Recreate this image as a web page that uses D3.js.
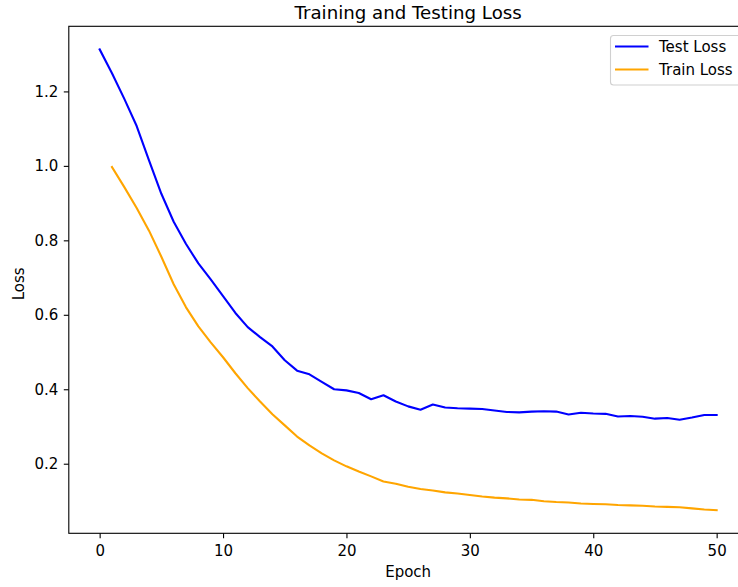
<!DOCTYPE html>
<html>
<head>
<meta charset="utf-8">
<script src="https://cdn.jsdelivr.net/npm/d3@7"></script>
<style>
  html, body { margin: 0; padding: 0; background: #fff; }
  svg { display: block; font-family: "DejaVu Sans", sans-serif; }
</style>
</head>
<body>
<div id="chart"></div>
<script>
// Loss per epoch
const testEpochs = d3.range(0, 51);
const testLoss = [
  1.313, 1.249, 1.180, 1.107, 1.015, 0.925, 0.850, 0.790, 0.738, 0.695,
  0.650, 0.605, 0.567, 0.540, 0.515, 0.478, 0.450, 0.440, 0.420, 0.400,
  0.397, 0.390, 0.373, 0.384, 0.367, 0.354, 0.345, 0.359, 0.351, 0.349,
  0.348, 0.347, 0.343, 0.339, 0.338, 0.340, 0.341, 0.340, 0.332, 0.337,
  0.335, 0.334, 0.327, 0.328, 0.326, 0.321, 0.323, 0.318, 0.324, 0.331,
  0.331
];
const trainEpochs = d3.range(1, 51);
const trainLoss = [
  0.997, 0.943, 0.887, 0.826, 0.756, 0.682, 0.620, 0.569, 0.526,
  0.486, 0.443, 0.403, 0.367, 0.333, 0.303, 0.273, 0.249, 0.228, 0.209,
  0.193, 0.179, 0.166, 0.152, 0.146, 0.138, 0.132, 0.128, 0.123, 0.120,
  0.116, 0.112, 0.109, 0.107, 0.104, 0.103, 0.099, 0.097, 0.096, 0.093,
  0.092, 0.091, 0.089, 0.088, 0.087, 0.085, 0.084, 0.083, 0.080, 0.077,
  0.075
];
const xTicks = [0, 10, 20, 30, 40, 50];
const yTicks = [0.2, 0.4, 0.6, 0.8, 1.0, 1.2];
const seriesNames = ["Test Loss", "Train Loss"];
const seriesColors = ["blue", "orange"];

const W = 738, H = 587;
const plot = { left: 68.8, right: 747.5, top: 26.3, bottom: 533.3 };

const svg = d3.select("#chart").append("svg")
  .attr("width", W).attr("height", H);

// 5% padding on both axes
const allX = testEpochs.concat(trainEpochs);
const allY = testLoss.concat(trainLoss);
const [x0, x1] = d3.extent(allX);
const [y0, y1] = d3.extent(allY);
const xPad = (x1 - x0) * 0.05, yPad = (y1 - y0) * 0.05;

const x = d3.scaleLinear().domain([x0 - xPad, x1 + xPad]).range([plot.left, plot.right]);
const y = d3.scaleLinear().domain([y0 - yPad, y1 + yPad]).range([plot.bottom, plot.top]);

const fontTick = 15;

// Lines
const line = d3.line().x(d => x(d[0])).y(d => y(d[1]));
const series = [
  testEpochs.map((e, i) => [e, testLoss[i]]),
  trainEpochs.map((e, i) => [e, trainLoss[i]])
];
series.forEach((s, i) => {
  svg.append("path")
    .datum(s)
    .attr("d", line)
    .attr("fill", "none")
    .attr("stroke", seriesColors[i])
    .attr("stroke-width", 2.1)
    .attr("stroke-linejoin", "round")
    .attr("stroke-linecap", "square");
});

// Axes
const xAxis = d3.axisBottom(x).tickValues(xTicks).tickFormat(d3.format("d"))
  .tickSize(5).tickPadding(5);
const yAxis = d3.axisLeft(y).tickValues(yTicks).tickFormat(d3.format(".1f"))
  .tickSize(5).tickPadding(5.5);

const gx = svg.append("g").attr("transform", `translate(0,${plot.bottom})`).call(xAxis);
const gy = svg.append("g").attr("transform", `translate(${plot.left},0)`).call(yAxis);
[gx, gy].forEach(g => {
  g.select(".domain").remove();
  g.selectAll(".tick line").attr("stroke", "#000").attr("stroke-width", 1.1);
  g.selectAll(".tick text").attr("fill", "#000")
    .attr("font-size", fontTick).attr("font-family", "DejaVu Sans");
});
gx.selectAll(".tick text").attr("dy", "0.88em");

// Frame
svg.append("rect")
  .attr("x", plot.left).attr("y", plot.top)
  .attr("width", plot.right - plot.left).attr("height", plot.bottom - plot.top)
  .attr("fill", "none").attr("stroke", "#000").attr("stroke-width", 1.1);

// Title and axis labels
const cx = (plot.left + plot.right) / 2;
svg.append("text")
  .attr("x", cx).attr("y", 19)
  .attr("text-anchor", "middle")
  .attr("font-size", 18.2)
  .attr("fill", "#000")
  .text("Training and Testing Loss");

svg.append("text")
  .attr("x", cx).attr("y", 577)
  .attr("text-anchor", "middle")
  .attr("font-size", fontTick)
  .attr("fill", "#000")
  .text("Epoch");

svg.append("text")
  .attr("transform", `translate(24,${(plot.top + plot.bottom) / 2 + 4}) rotate(-90)`)
  .attr("text-anchor", "middle")
  .attr("font-size", fontTick)
  .attr("fill", "#000")
  .text("Loss");

// Legend
const leg = svg.append("g");
leg.append("rect")
  .attr("x", 610.5).attr("y", 35.5)
  .attr("width", 135).attr("height", 49.5)
  .attr("rx", 3).attr("ry", 3)
  .attr("fill", "#fff").attr("fill-opacity", 0.8)
  .attr("stroke", "#d0d0d0").attr("stroke-width", 1.1);
seriesNames.forEach((name, i) => {
  const ly = 46.5 + i * 23;
  leg.append("line")
    .attr("x1", 615).attr("x2", 648.5)
    .attr("y1", ly).attr("y2", ly)
    .attr("stroke", seriesColors[i]).attr("stroke-width", 2.1);
  leg.append("text")
    .attr("x", 659).attr("y", ly)
    .attr("dy", "0.36em")
    .attr("font-size", fontTick)
    .attr("fill", "#000")
    .text(name);
});
</script>
</body>
</html>
